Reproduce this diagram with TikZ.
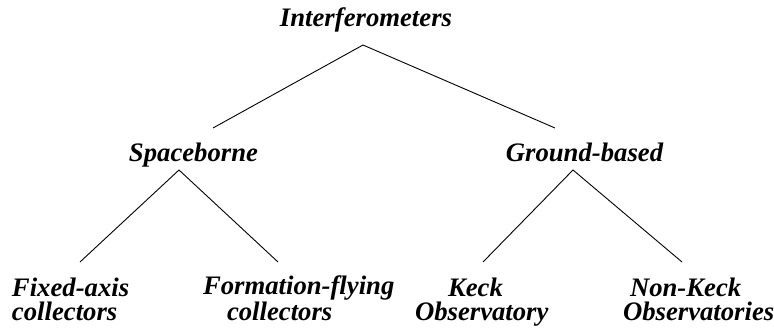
\documentclass[tikz,border=0pt]{standalone}
\usepackage{fontspec}
\setmainfont{Liberation Serif}
\begin{document}
\begin{tikzpicture}[x=1pt,y=-1pt,
  lbl/.style={inner sep=0pt,outer sep=0pt,font=\fontsize{26.7}{24}\selectfont\bfseries\itshape},
  lblL/.style={lbl,align=left,anchor=base west},
  conn/.style={line width=0.9pt}]
\useasboundingbox (0,0) rectangle (774,329);
\node[lbl,anchor=base] (top) at (366,27) {Interferometers};
\node[lbl,anchor=base] (space) at (193.5,161) {Spaceborne};
\node[lbl,anchor=base] (ground) at (584.5,161) {Ground-based};
% multi-line nodes: base anchor sits on the last line's baseline
\node[lblL] (fixed) at (12,320) {Fixed-axis\\collectors};
\node[lblL] (form) at (203,320) {Formation-flying\\\hspace*{24pt}collectors};
\node[lblL] (keck) at (415,320) {\hspace*{33pt}Keck\\Observatory};
\node[lblL] (nonkeck) at (623,320) {\hspace*{7pt}Non-Keck\\Observatories};
% connector end points
\coordinate (topA) at (363,45);
\coordinate (spaceT) at (213,128);
\coordinate (groundT) at (555,128);
\coordinate (spaceA) at (179,170);
\coordinate (groundA) at (573,170);
\coordinate (fixedT) at (80,262);
\coordinate (formT) at (278,262);
\coordinate (keckT) at (483,262);
\coordinate (nonkeckT) at (682,262);
\draw[conn] (spaceT) -- (topA) -- (groundT);
\draw[conn] (fixedT) -- (spaceA) -- (formT);
\draw[conn] (keckT) -- (groundA) -- (nonkeckT);
\end{tikzpicture}
\end{document}
